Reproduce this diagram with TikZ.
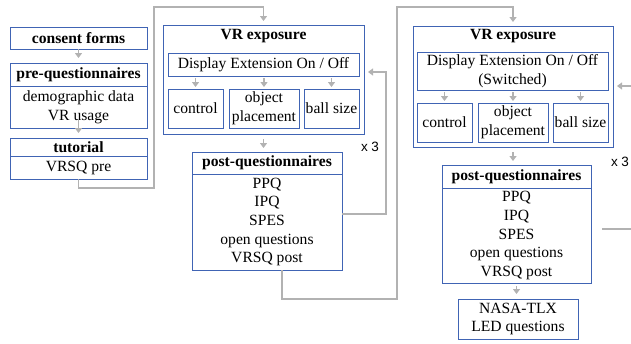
\documentclass[tikz,border=0pt]{standalone}
\usepackage{fontspec}
\setmainfont{Liberation Serif}
\newfontfamily\labelsans{Liberation Sans}
\usetikzlibrary{arrows.meta}
\definecolor{frameblue}{RGB}{64,100,180}
\definecolor{flowgray}{RGB}{178,178,178}
\begin{document}
\begin{tikzpicture}[x=1pt,y=-1pt,
  font=\fontsize{15.6}{18.6}\selectfont,
  box/.style={draw=frameblue, line width=0.95pt, inner sep=0pt, outer sep=0pt, align=center},
  head/.style={box, font=\fontsize{15.6}{18.6}\selectfont\bfseries},
  flow/.style={draw=flowgray, line width=1.4pt},
  tip/.style={flow, -{Triangle[width=7pt,length=5pt]}},
  reps/.style={font=\labelsans\fontsize{13.5}{16}\selectfont}
]
\useasboundingbox (0,0) rectangle (631,343);

% --- preparation column ---
\node[head, minimum width=137pt, minimum height=22pt] (consent) at (78.5,38) {consent forms};
\node[head, minimum width=137pt, minimum height=23pt] (preh) at (78.5,74.5) {pre-questionnaires};
\node[box, minimum width=137pt, minimum height=42pt, anchor=north] (preb) at (preh.south) {demographic data\\VR usage};
\node[head, minimum width=137pt, minimum height=18pt] (tuth) at (78.5,147) {tutorial};
\node[box, minimum width=137pt, minimum height=23pt, anchor=north] (tutb) at (tuth.south) {VRSQ pre};

\draw[tip, shorten >=5pt] (consent.south) -- (preh.north);
\draw[tip, shorten >=5pt] ([yshift=9pt]preb.south) -- (tuth.north);

% --- first exposure block ---
\node[box, minimum width=201pt, minimum height=109pt] (vr1) at (263.5,79.5) {};
\node[font=\fontsize{15.6}{18.6}\selectfont\bfseries] (vr1t) at (263.5,36) {VR exposure};
\node[box, minimum width=191pt, minimum height=23pt] (disp1) at (263.5,64.5) {Display Extension On / Off};
\node[box, minimum width=55pt, minimum height=39pt] (ctl1) at (195.5,108.5) {control};
\node[box, minimum width=70pt, minimum height=39pt] (obj1) at (264,108.5) {object\\placement};
\node[box, minimum width=55pt, minimum height=39pt] (ball1) at (331.5,108.5) {ball size};
\foreach \t in {ctl1,obj1,ball1}
  \draw[tip, shorten <=2pt, shorten >=2pt] (disp1.south -| \t) -- (\t.north);

\node[head, minimum width=150pt, minimum height=22pt] (post1h) at (267,163) {post-questionnaires};
\node[box, minimum width=150pt, minimum height=96pt, anchor=north] (post1b) at (post1h.south) {PPQ\\IPQ\\SPES\\open questions\\VRSQ post};
\draw[tip, shorten <=5pt, shorten >=4pt] (vr1.south) -- (vr1.south |- post1h.north);

\node[reps] (rep1) at (370,147) {x 3};
\draw[tip, shorten >=4pt] ([yshift=8pt]post1b.east) -- ++(44,0) |- ([yshift=7.5pt]vr1.east);

% --- second exposure block ---
\node[box, minimum width=200pt, minimum height=121pt] (vr2) at (513,86.5) {};
\node[font=\fontsize{15.6}{18.6}\selectfont\bfseries] (vr2t) at (513,36) {VR exposure};
\node[box, minimum width=191pt, minimum height=38pt] (disp2) at (512.5,71) {Display Extension On / Off\\(Switched)};
\node[box, minimum width=55pt, minimum height=39pt] (ctl2) at (444.5,122.5) {control};
\node[box, minimum width=70pt, minimum height=39pt] (obj2) at (513,122.5) {object\\placement};
\node[box, minimum width=55pt, minimum height=39pt] (ball2) at (580.5,122.5) {ball size};
\foreach \t in {ctl2,obj2,ball2}
  \draw[tip, shorten <=2pt, shorten >=2pt] (disp2.south -| \t) -- (\t.north);

\node[head, minimum width=149pt, minimum height=23pt] (post2h) at (516.5,176.5) {post-questionnaires};
\node[box, minimum width=149pt, minimum height=95pt, anchor=north] (post2b) at (post2h.south) {PPQ\\IPQ\\SPES\\open questions\\VRSQ post};
\draw[tip, shorten <=5pt, shorten >=4pt] (vr2.south) -- (vr2.south |- post2h.north);

\node[reps] (rep2) at (620,162) {x 3};
\coordinate (edgeR1) at (631,86);
\coordinate (edgeR2) at (631,229);
\draw[tip, shorten >=4pt] (edgeR1) -- (edgeR1 -| vr2.east);
\draw[flow, shorten <=11pt] (edgeR2 -| post2b.east) -- (edgeR2);

\node[box, minimum width=120pt, minimum height=40pt] (nasa) at (518,319) {NASA-TLX\\LED questions};
\draw[tip, shorten <=3pt, shorten >=5pt] (post2b.south) -- (post2b.south |- nasa.north);

% --- connectors between blocks ---
\coordinate (top1) at (154,7);
\coordinate (top2) at (397,7);
\draw[tip, shorten >=4pt] (tutb.south) -- ++(0,9) -| (top1) -| (vr1.north);
\draw[tip, shorten >=4pt] ([xshift=15pt]post1b.south) -- ++(0,29) -| (top2) -| (vr2.north);
\end{tikzpicture}
\end{document}
